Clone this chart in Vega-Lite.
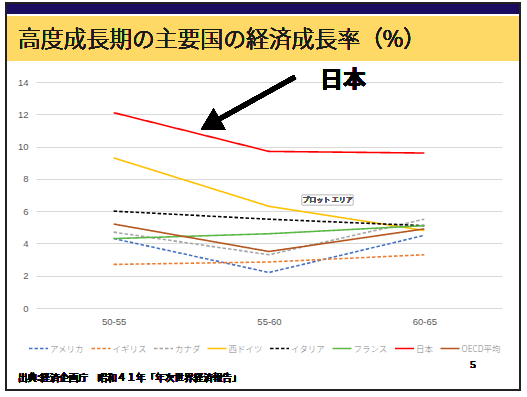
{
  "$schema": "https://vega.github.io/schema/vega-lite/v6.json",
  "width": 466,
  "height": 226,
  "autosize": {"type": "none"},
  "padding": {"left": 36, "top": 82, "right": 25, "bottom": 89},
  "background": "white",
  "config": {
    "view": {"stroke": null},
    "font": "Noto Sans CJK JP"
  },
  "data": {
    "values": [
      {"period": "50-55", "country": "アメリカ", "rate": 4.3},
      {"period": "55-60", "country": "アメリカ", "rate": 2.2},
      {"period": "60-65", "country": "アメリカ", "rate": 4.5},
      {"period": "50-55", "country": "イギリス", "rate": 2.7},
      {"period": "55-60", "country": "イギリス", "rate": 2.85},
      {"period": "60-65", "country": "イギリス", "rate": 3.3},
      {"period": "50-55", "country": "カナダ", "rate": 4.7},
      {"period": "55-60", "country": "カナダ", "rate": 3.3},
      {"period": "60-65", "country": "カナダ", "rate": 5.5},
      {"period": "50-55", "country": "西ドイツ", "rate": 9.3},
      {"period": "55-60", "country": "西ドイツ", "rate": 6.3},
      {"period": "60-65", "country": "西ドイツ", "rate": 4.8},
      {"period": "50-55", "country": "イタリア", "rate": 6.0},
      {"period": "55-60", "country": "イタリア", "rate": 5.5},
      {"period": "60-65", "country": "イタリア", "rate": 5.1},
      {"period": "50-55", "country": "フランス", "rate": 4.3},
      {"period": "55-60", "country": "フランス", "rate": 4.6},
      {"period": "60-65", "country": "フランス", "rate": 5.1},
      {"period": "50-55", "country": "日本", "rate": 12.1},
      {"period": "55-60", "country": "日本", "rate": 9.7},
      {"period": "60-65", "country": "日本", "rate": 9.6},
      {"period": "50-55", "country": "OECD平均", "rate": 5.2},
      {"period": "55-60", "country": "OECD平均", "rate": 3.5},
      {"period": "60-65", "country": "OECD平均", "rate": 4.9}
    ]
  },
  "resolve": {"scale": {"x": "independent"}, "axis": {"x": "independent", "y": "independent"}},
  "layer": [
    {
      "mark": {"type": "line", "strokeWidth": 1.6},
      "encoding": {
        "x": {
          "field": "period", "type": "nominal",
          "scale": {"type": "point", "padding": 0.5},
          "axis": {"title": null, "labelAngle": 0, "domain": false, "ticks": false, "labelPadding": 8, "labelColor": "#595959", "labelFontSize": 9.5, "labelFont": "Liberation Sans"}
        },
        "y": {
          "field": "rate", "type": "quantitative",
          "scale": {"domain": [0, 14], "nice": false, "zero": false},
          "axis": {"title": null, "values": [0, 2, 4, 6, 8, 10, 12, 14], "labelOverlap": false, "domain": false, "ticks": false, "labelPadding": 8, "labelColor": "#595959", "labelFontSize": 9.5, "labelFont": "Liberation Sans", "gridColor": "#D9D9D9", "gridWidth": 1}
        },
        "color": {
          "field": "country", "type": "nominal",
          "scale": {
            "domain": ["アメリカ", "イギリス", "カナダ", "西ドイツ", "イタリア", "フランス", "日本", "OECD平均"],
            "range": ["#4472C4", "#ED7D31", "#A5A5A5", "#FFC000", "#000000", "#5CB845", "#FF0000", "#B5561F"]
          },
          "legend": {
            "title": null, "orient": "none", "legendX": -8, "legendY": 256, "direction": "horizontal", "columns": 8,
            "symbolType": "stroke", "symbolSize": 361, "symbolStrokeWidth": 1.6, "labelOffset": 1, "columnPadding": 2.5,
            "labelFontSize": 8.5, "labelColor": "#7F7F7F", "labelFont": "Noto Sans CJK JP", "labelFontWeight": 300
          }
        },
        "strokeDash": {
          "field": "country", "type": "nominal",
          "scale": {
            "domain": ["アメリカ", "イギリス", "カナダ", "西ドイツ", "イタリア", "フランス", "日本", "OECD平均"],
            "range": [[3.5, 2], [3.5, 2], [3.5, 2], [1, 0], [3.5, 2], [1, 0], [1, 0], [1, 0]]
          }
        },
        "strokeWidth": {
          "condition": {"test": "datum.country === '日本'", "value": 2.2},
          "value": 1.6
        },
        "order": {"field": "period"}
      }
    },
    {
      "layer": [
        {
          "mark": {"type": "rect", "fill": "#1A0C5E"},
          "encoding": {
            "x": {"datum": -0.6931, "type": "quantitative", "scale": {"domain": [-0.5, 2.5], "nice": false, "zero": false}, "axis": null},
            "x2": {"datum": 2.6159},
            "y": {"datum": 18.894, "type": "quantitative", "scale": {"domain": [0, 14], "nice": false, "zero": false}, "axis": null},
            "y2": {"datum": 18.213}
          }
        },
        {
          "mark": {"type": "rect", "fill": "#FFD966"},
          "encoding": {
            "x": {"datum": -0.687, "type": "quantitative", "scale": {"domain": [-0.5, 2.5], "nice": false, "zero": false}, "axis": null},
            "x2": {"datum": 2.609},
            "y": {"datum": 18.088, "type": "quantitative", "scale": {"domain": [0, 14], "nice": false, "zero": false}, "axis": null},
            "y2": {"datum": 15.301}
          }
        },
        {
          "mark": {"type": "rect", "fill": null, "stroke": "#222222", "strokeWidth": 1.5},
          "encoding": {
            "x": {"datum": -0.6931, "type": "quantitative", "scale": {"domain": [-0.5, 2.5], "nice": false, "zero": false}, "axis": null},
            "x2": {"datum": 2.6159},
            "y": {"datum": 18.894, "type": "quantitative", "scale": {"domain": [0, 14], "nice": false, "zero": false}, "axis": null},
            "y2": {"datum": -5.0796}
          }
        },
        {
          "mark": {"type": "text", "text": "高度成長期の主要国の経済成長率（%）", "align": "left", "baseline": "middle", "fontSize": 22.8, "fontWeight": 300, "font": "Noto Sans CJK JP", "color": "#1A1A1A"},
          "encoding": {
            "x": {"datum": -0.6159, "type": "quantitative", "scale": {"domain": [-0.5, 2.5], "nice": false, "zero": false}, "axis": null},
            "y": {"datum": 16.602, "type": "quantitative", "scale": {"domain": [0, 14], "nice": false, "zero": false}, "axis": null}
          }
        },
        {
          "mark": {"type": "text", "text": "日本", "align": "center", "baseline": "middle", "fontSize": 23, "fontWeight": "bold", "font": "Noto Sans CJK JP", "color": "#000000"},
          "encoding": {
            "x": {"datum": 1.4764, "type": "quantitative", "scale": {"domain": [-0.5, 2.5], "nice": false, "zero": false}, "axis": null},
            "y": {"datum": 14.124, "type": "quantitative", "scale": {"domain": [0, 14], "nice": false, "zero": false}, "axis": null}
          }
        },
        {
          "mark": {"type": "rule", "stroke": "#000000", "strokeWidth": 4.5},
          "encoding": {
            "x": {"datum": 1.1674, "type": "quantitative", "scale": {"domain": [-0.5, 2.5], "nice": false, "zero": false}, "axis": null},
            "x2": {"datum": 0.6459},
            "y": {"datum": 14.31, "type": "quantitative", "scale": {"domain": [0, 14], "nice": false, "zero": false}, "axis": null},
            "y2": {"datum": 11.522}
          }
        },
        {
          "mark": {"type": "point", "shape": "triangle-up", "filled": true, "color": "#000000", "size": 600, "angle": 241, "opacity": 1},
          "encoding": {
            "x": {"datum": 0.6218, "type": "quantitative", "scale": {"domain": [-0.5, 2.5], "nice": false, "zero": false}, "axis": null},
            "y": {"datum": 11.383, "type": "quantitative", "scale": {"domain": [0, 14], "nice": false, "zero": false}, "axis": null}
          }
        },
        {
          "mark": {"type": "rect", "fill": "#FFFFFF", "stroke": "#D0D0D0", "strokeWidth": 1, "cornerRadius": 1},
          "encoding": {
            "x": {"datum": 1.2125, "type": "quantitative", "scale": {"domain": [-0.5, 2.5], "nice": false, "zero": false}, "axis": null},
            "x2": {"datum": 1.5408},
            "y": {"datum": 7.0, "type": "quantitative", "scale": {"domain": [0, 14], "nice": false, "zero": false}, "axis": null},
            "y2": {"datum": 6.381}
          }
        },
        {
          "mark": {"type": "text", "text": "プロット エリア", "align": "center", "baseline": "middle", "fontSize": 7, "fontWeight": 300, "font": "Noto Sans CJK JP", "color": "#555555"},
          "encoding": {
            "x": {"datum": 1.3768, "type": "quantitative", "scale": {"domain": [-0.5, 2.5], "nice": false, "zero": false}, "axis": null},
            "y": {"datum": 6.69, "type": "quantitative", "scale": {"domain": [0, 14], "nice": false, "zero": false}, "axis": null}
          }
        },
        {
          "mark": {"type": "text", "text": "出典:経済企画庁　昭和４１年「年次世界経済報告」", "align": "left", "baseline": "middle", "fontSize": 9.6, "fontWeight": 500, "font": "Noto Sans CJK JP", "color": "#000000"},
          "encoding": {
            "x": {"datum": -0.6159, "type": "quantitative", "scale": {"domain": [-0.5, 2.5], "nice": false, "zero": false}, "axis": null},
            "y": {"datum": -4.336, "type": "quantitative", "scale": {"domain": [0, 14], "nice": false, "zero": false}, "axis": null}
          }
        },
        {
          "mark": {"type": "text", "text": "5", "align": "center", "baseline": "middle", "fontSize": 11, "font": "Liberation Serif", "color": "#000000"},
          "encoding": {
            "x": {"datum": 2.3133, "type": "quantitative", "scale": {"domain": [-0.5, 2.5], "nice": false, "zero": false}, "axis": null},
            "y": {"datum": -3.531, "type": "quantitative", "scale": {"domain": [0, 14], "nice": false, "zero": false}, "axis": null}
          }
        }
      ]
    }
  ]
}
